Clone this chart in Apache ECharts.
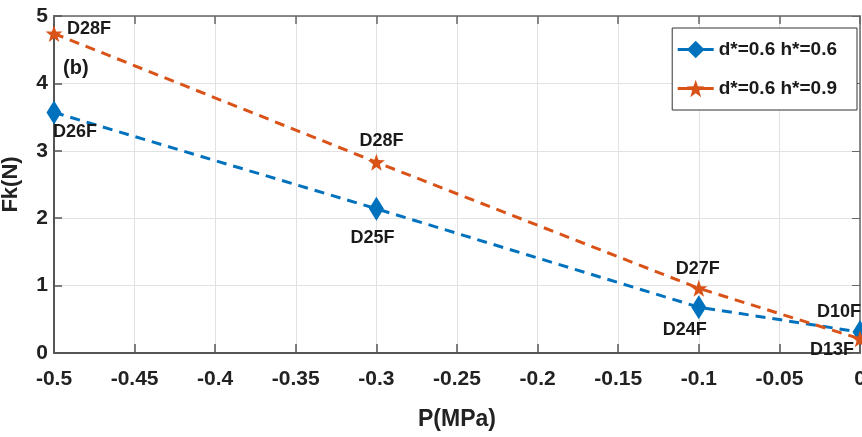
<!DOCTYPE html>
<html>
<head>
<meta charset="utf-8">
<script src="https://cdn.jsdelivr.net/npm/echarts@6/dist/echarts.min.js"></script>
<style>html,body{margin:0;padding:0;background:#fff;}#c{width:862px;height:437px;}</style>
</head>
<body>
<div id="c"></div>
<script>
// ---- data ----
var pressure = [-0.5, -0.3, -0.1, 0];
var fkH06 = [3.57, 2.14, 0.68, 0.31];
var fkH09 = [4.74, 2.83, 0.96, 0.21];
var labelsH06 = ['D26F', 'D25F', 'D24F', 'D10F'];
var labelsH09 = ['D28F', 'D28F', 'D27F', 'D13F'];
var seriesNames = ['d*=0.6 h*=0.6', 'd*=0.6 h*=0.9'];
var xTicks = ['-0.5', '-0.45', '-0.4', '-0.35', '-0.3', '-0.25', '-0.2', '-0.15', '-0.1', '-0.05', '0'];

// ---- styles ----
var FONT = '"Liberation Sans", Arial, sans-serif';
var offH06 = [[21, 20], [-4, 29], [-14, 23], [-21, -20]];
var offH09 = [[35, -4], [5, -21], [-1, -19], [-28, 11]];
var STAR = 'path://M0,-10 L2.35,-3.24 L9.51,-3.09 L3.8,1.24 L5.88,8.09 L0,4 L-5.88,8.09 L-3.8,1.24 L-9.51,-3.09 L-2.35,-3.24 Z';

function build(vals, labels, offs) {
  return vals.map(function (v, i) {
    return {
      value: [pressure[i], v],
      label: { show: true, formatter: labels[i], position: 'inside', offset: offs[i] }
    };
  });
}
var labelStyle = { color: '#1a1a1a', fontSize: 18, fontWeight: 'bold', fontFamily: FONT };

var chart = echarts.init(document.getElementById('c'), null, { renderer: 'canvas' });
chart.setOption({
  animation: false,
  backgroundColor: '#fff',
  grid: { left: 54, right: 2, top: 16, bottom: 84, containLabel: false, outerBoundsMode: 'none' },
  legend: {
    right: 5, top: 28,
    orient: 'vertical',
    backgroundColor: '#fff',
    borderColor: '#333', borderWidth: 1, borderRadius: 0,
    padding: [12, 20, 12, 4],
    itemWidth: 36, itemHeight: 22, itemGap: 20,
    lineStyle: { type: 'solid', width: 3 },
    textStyle: { fontSize: 19, fontWeight: 'bold', color: '#1a1a1a', fontFamily: FONT },
    data: seriesNames
  },
  xAxis: [{
    type: 'value', min: -0.5, max: 0, interval: 0.05,
    name: 'P(MPa)', nameLocation: 'middle', nameGap: 55,
    nameTextStyle: { fontSize: 23, fontWeight: 'bold', color: '#222', fontFamily: FONT },
    axisLine: { show: true, onZero: false, lineStyle: { color: '#555', width: 2 } },
    axisTick: { show: true, inside: true, length: 9, lineStyle: { color: '#555', width: 1.5 } },
    axisLabel: {
      color: '#222', fontSize: 21, fontWeight: 'bold', fontFamily: FONT, margin: 16,
      formatter: function (v, i) { return xTicks[i]; }
    },
    splitLine: { show: true, lineStyle: { color: '#e2e2e2', width: 1 } }
  }, {
    type: 'value', position: 'top', min: -0.5, max: 0, interval: 0.05,
    axisLine: { show: true, onZero: false, lineStyle: { color: '#666', width: 1.5 } },
    axisTick: { show: true, inside: true, length: 8, lineStyle: { color: '#666', width: 1.5 } },
    axisLabel: { show: false }, splitLine: { show: false }
  }],
  yAxis: [{
    type: 'value', min: 0, max: 5, interval: 1,
    name: 'Fk(N)', nameLocation: 'middle', nameGap: 32,
    nameTextStyle: { fontSize: 22, fontWeight: 'bold', color: '#222', fontFamily: FONT },
    axisLine: { show: true, onZero: false, lineStyle: { color: '#555', width: 2 } },
    axisTick: { show: true, inside: true, length: 8, lineStyle: { color: '#555', width: 1.5 } },
    axisLabel: { color: '#222', fontSize: 21, fontWeight: 'bold', fontFamily: FONT, margin: 6 },
    splitLine: { show: true, lineStyle: { color: '#e2e2e2', width: 1 } }
  }, {
    type: 'value', position: 'right', min: 0, max: 5, interval: 1,
    axisLine: { show: true, onZero: false, lineStyle: { color: '#666', width: 1.5 } },
    axisTick: { show: true, inside: true, length: 8 },
    axisLabel: { show: false }, splitLine: { show: false }
  }],
  graphic: [{
    type: 'text', left: 63, top: 58,
    style: { text: '(b)', fontSize: 20, fontWeight: 'bold', fill: '#1a1a1a', fontFamily: FONT }
  }],
  series: [{
    name: seriesNames[0], type: 'line', clip: false,
    data: build(fkH06, labelsH06, offH06),
    symbol: 'diamond', symbolSize: [15, 24],
    itemStyle: { color: '#0072BD' },
    lineStyle: { color: '#0072BD', width: 3, type: [10, 7] },
    label: labelStyle,
    z: 3
  }, {
    name: seriesNames[1], type: 'line', clip: false,
    data: build(fkH09, labelsH09, offH09),
    symbol: STAR, symbolSize: [17, 17],
    itemStyle: { color: '#D95319' },
    lineStyle: { color: '#D95319', width: 3, type: [10, 7] },
    label: labelStyle,
    z: 4
  }]
});
</script>
</body>
</html>
